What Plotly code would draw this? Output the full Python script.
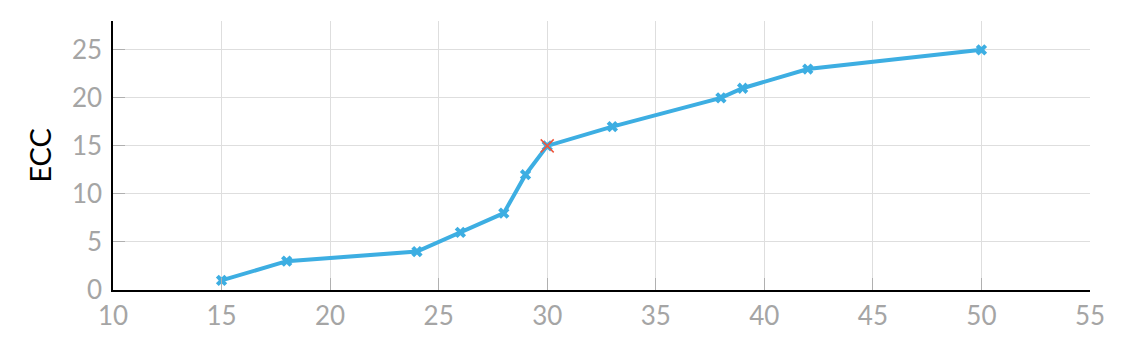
import plotly.graph_objects as go

x_vals = [15, 18, 24, 26, 28, 29, 30, 33, 38, 39, 42, 50]
ecc_vals = [1, 3, 4, 6, 8, 12, 15, 17, 20, 21, 23, 25]
highlight_x = [30]
highlight_y = [15]
x_ticks = [10, 15, 20, 25, 30, 35, 40, 45, 50, 55]
y_ticks = [0, 5, 10, 15, 20, 25]

fig = go.Figure()
fig.add_trace(go.Scatter(
    x=x_vals, y=ecc_vals, mode="lines+markers",
    line=dict(color="#3daee2", width=4),
    marker=dict(symbol="x", size=10, color="#3daee2", line=dict(width=0)),
    showlegend=False,
))
fig.add_trace(go.Scatter(
    x=highlight_x, y=highlight_y, mode="markers",
    marker=dict(symbol="x-thin-open", size=13, line=dict(color="#e8202a", width=1.5)),
    showlegend=False,
))

font = "Lato, 'Open Sans', sans-serif"
fig.update_layout(
    width=1134, height=347,
    margin=dict(l=113, r=44, t=21, b=57),
    plot_bgcolor="white", paper_bgcolor="white",
    font=dict(family=font),
)
fig.update_xaxes(
    range=[10, 55], tickvals=x_ticks, ticktext=[str(v) for v in x_ticks],
    showgrid=True, gridcolor="#dedede", gridwidth=1,
    showline=True, linecolor="black", linewidth=1.5,
    ticks="inside", ticklen=12, tickcolor="#b0b0b0", tickwidth=1,
    tickfont=dict(size=26, color="#a5a5a5", family=font),
    ticklabelstandoff=2,
    zeroline=False,
)
fig.update_yaxes(
    range=[0, 28], tickvals=y_ticks, ticktext=[str(v) for v in y_ticks],
    showgrid=True, gridcolor="#dedede", gridwidth=1,
    showline=True, linecolor="black", linewidth=1.5,
    ticks="inside", ticklen=12, tickcolor="#b0b0b0", tickwidth=1,
    tickfont=dict(size=26, color="#a5a5a5", family=font),
    ticklabelstandoff=4,
    title=dict(text="ECC", font=dict(size=29, color="black", family=font), standoff=12),
    zeroline=False,
)
fig.write_html("out.html")
